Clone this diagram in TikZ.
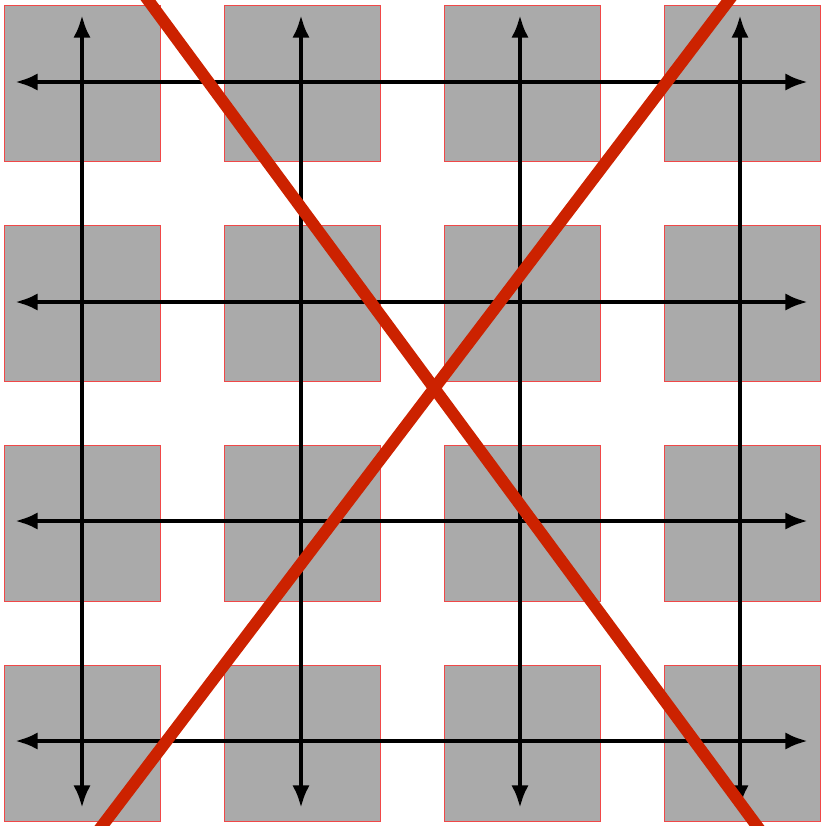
\documentclass[tikz,border=0pt]{standalone}
\usetikzlibrary{arrows.meta,calc}
\definecolor{cellgray}{HTML}{AAAAAA}
\definecolor{cellborder}{HTML}{F04848}
\definecolor{crossred}{HTML}{CC2200}
\tikzset{
  cell/.style={draw=cellborder, fill=cellgray, line width=1.2pt, minimum size=117pt, inner sep=0pt, outer sep=0pt},
  axisarrow/.style={black, line width=3.6pt, {Latex[length=17pt,width=13pt]}-{Latex[length=17pt,width=13pt]}},
  crossline/.style={crossred, line width=9pt}
}
\begin{document}
\begin{tikzpicture}[x=0.75pt,y=-0.75pt]
\path[use as bounding box] (0,0) rectangle (822,826);
\clip (0,0) rectangle (822,826);
\foreach \i/\cx in {0/82.5,1/302.5,2/522.5,3/742.5}{
  \foreach \j/\cy in {0/83.5,1/303.5,2/523.5,3/743.5}{
    \node[cell] (c\i\j) at (\cx,\cy) {};
  }
}
\foreach \k/\p in {0/82,1/302,2/521,3/741}{
  \coordinate (hl\k) at (15,\p);
  \coordinate (hr\k) at (808,\p);
  \draw[axisarrow] (hl\k) -- (hr\k);
}
\foreach \k/\p in {0/82,1/301,2/520,3/740}{
  \coordinate (vt\k) at (\p,15);
  \coordinate (vb\k) at (\p,808);
  \draw[axisarrow] (vt\k) -- (vb\k);
}
\coordinate (xa1) at (148,0);
\coordinate (xa2) at (757,826);
\coordinate (xb1) at (729,0);
\coordinate (xb2) at (102,826);
\draw[crossline] ($(xa1)!-0.05!(xa2)$) -- ($(xa2)!-0.05!(xa1)$);
\draw[crossline] ($(xb1)!-0.05!(xb2)$) -- ($(xb2)!-0.05!(xb1)$);
\end{tikzpicture}
\end{document}
